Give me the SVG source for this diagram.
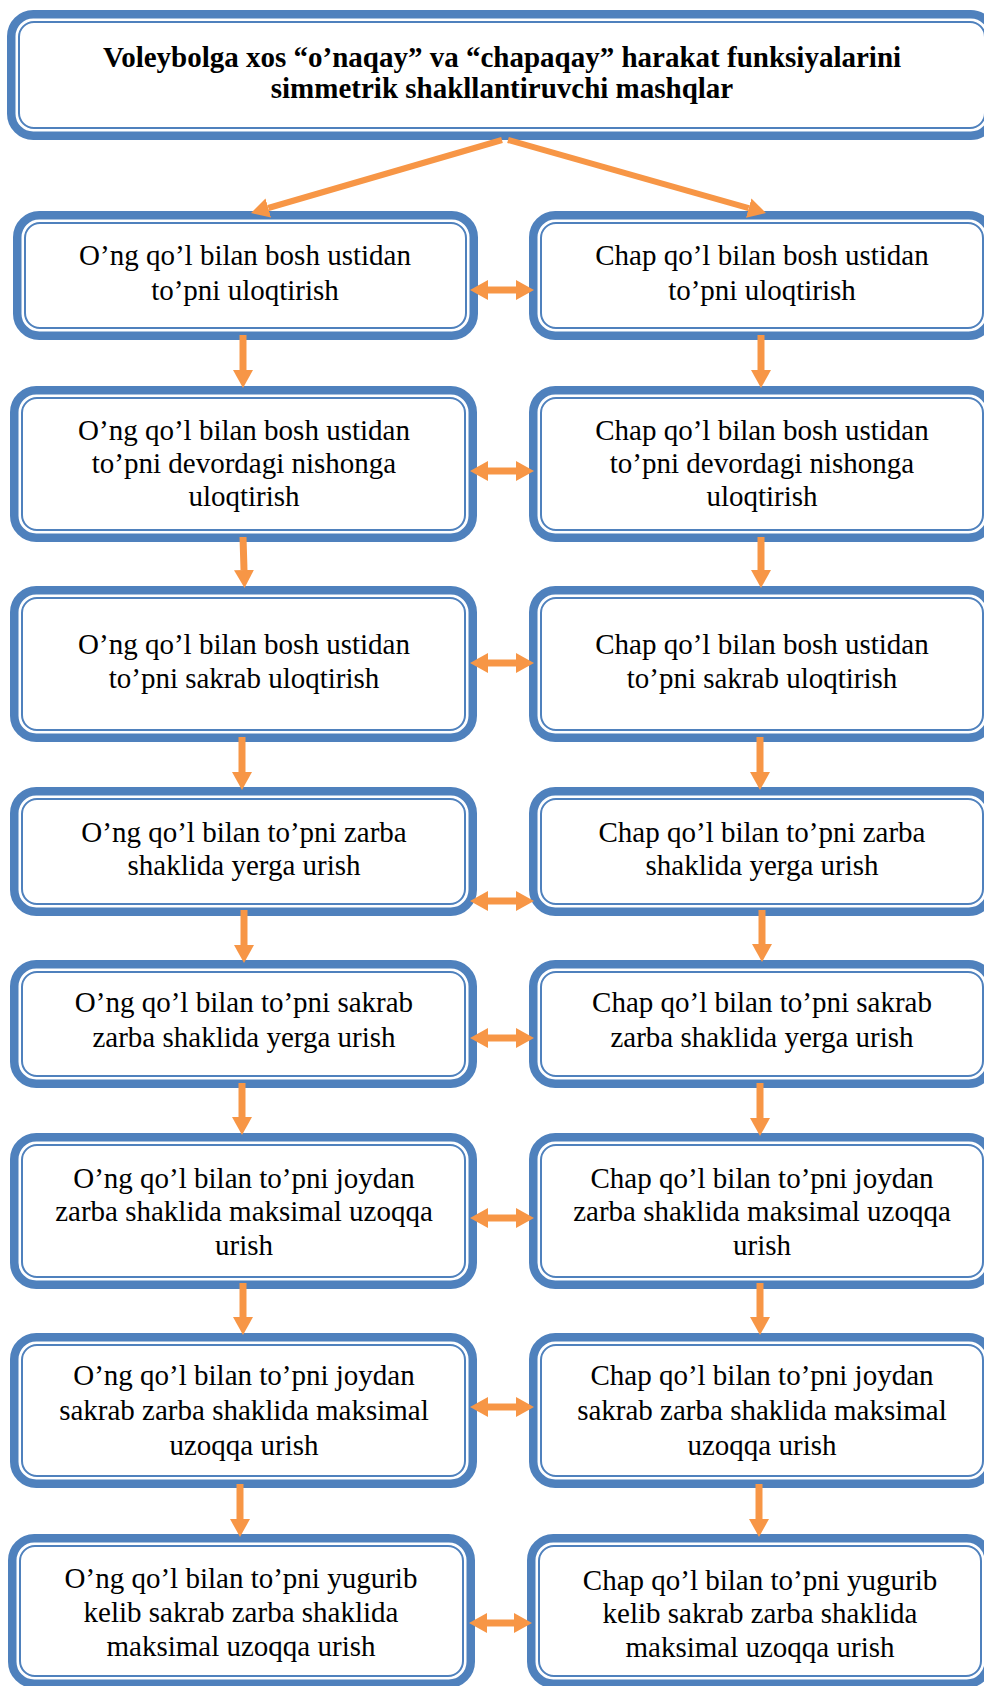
<svg xmlns="http://www.w3.org/2000/svg" width="984" height="1686" viewBox="0 0 984 1686">
<style>
.outer{fill:#fff;stroke:#4F81BD;stroke-width:8.5}
.inner{fill:none;stroke:#4F81BD;stroke-width:2}
.t{font-family:"Liberation Serif","Times New Roman",serif;font-size:29px;text-anchor:middle;fill:#000}
.b{font-weight:bold}
.c{stroke:#F79646;stroke-width:7;fill:none}
.c6{stroke:#F79646;stroke-width:6;fill:none}
</style>
<defs>
<marker id="ah" markerUnits="userSpaceOnUse" markerWidth="18" markerHeight="20" refX="0" refY="10" orient="auto-start-reverse" viewBox="0 0 18 20">
<path d="M0,0 L18,10 L0,20 z" fill="#F79646"/>
</marker>
</defs>
<rect width="984" height="1686" fill="#fff"/>

<g id="title">
<rect class="outer" x="11.25" y="14.25" width="981.5" height="121.5" rx="22"/>
<rect class="inner" x="19" y="22" width="966" height="106" rx="15"/>
<text class="t b" x="502" y="67">Voleybolga xos “o’naqay” va “chapaqay” harakat funksiyalarini</text>
<text class="t b" x="502" y="98">simmetrik shakllantiruvchi mashqlar</text>
</g>

<g id="L1">
<rect class="outer" x="17.25" y="215.25" width="456.5" height="120.5" rx="22"/>
<rect class="inner" x="25" y="223" width="441" height="105" rx="15"/>
<text class="t" x="245" y="265">O’ng qo’l bilan bosh ustidan</text>
<text class="t" x="245" y="300">to’pni uloqtirish</text>
</g>
<g id="R1">
<rect class="outer" x="533.25" y="215.25" width="457.5" height="120.5" rx="22"/>
<rect class="inner" x="541" y="223" width="442" height="105" rx="15"/>
<text class="t" x="762" y="265">Chap qo’l bilan bosh ustidan</text>
<text class="t" x="762" y="300">to’pni uloqtirish</text>
</g>

<g id="L2">
<rect class="outer" x="14.25" y="390.25" width="458.5" height="147.5" rx="22"/>
<rect class="inner" x="22" y="398" width="443" height="132" rx="15"/>
<text class="t" x="244" y="440">O’ng qo’l bilan bosh ustidan</text>
<text class="t" x="244" y="473">to’pni devordagi nishonga</text>
<text class="t" x="244" y="506">uloqtirish</text>
</g>
<g id="R2">
<rect class="outer" x="533.25" y="390.25" width="457.5" height="147.5" rx="22"/>
<rect class="inner" x="541" y="398" width="442" height="132" rx="15"/>
<text class="t" x="762" y="440">Chap qo’l bilan bosh ustidan</text>
<text class="t" x="762" y="473">to’pni devordagi nishonga</text>
<text class="t" x="762" y="506">uloqtirish</text>
</g>

<g id="L3">
<rect class="outer" x="14.25" y="590.25" width="458.5" height="147.5" rx="22"/>
<rect class="inner" x="22" y="598" width="443" height="132" rx="15"/>
<text class="t" x="244" y="654">O’ng qo’l bilan bosh ustidan</text>
<text class="t" x="244" y="688">to’pni sakrab uloqtirish</text>
</g>
<g id="R3">
<rect class="outer" x="533.25" y="590.25" width="457.5" height="147.5" rx="22"/>
<rect class="inner" x="541" y="598" width="442" height="132" rx="15"/>
<text class="t" x="762" y="654">Chap qo’l bilan bosh ustidan</text>
<text class="t" x="762" y="688">to’pni sakrab uloqtirish</text>
</g>

<g id="L4">
<rect class="outer" x="14.25" y="791.25" width="458.5" height="120.5" rx="22"/>
<rect class="inner" x="22" y="799" width="443" height="105" rx="15"/>
<text class="t" x="244" y="842">O’ng qo’l bilan to’pni zarba</text>
<text class="t" x="244" y="875">shaklida yerga urish</text>
</g>
<g id="R4">
<rect class="outer" x="533.25" y="791.25" width="457.5" height="120.5" rx="22"/>
<rect class="inner" x="541" y="799" width="442" height="105" rx="15"/>
<text class="t" x="762" y="842">Chap qo’l bilan to’pni zarba</text>
<text class="t" x="762" y="875">shaklida yerga urish</text>
</g>

<g id="L5">
<rect class="outer" x="14.25" y="964.25" width="458.5" height="119.5" rx="22"/>
<rect class="inner" x="22" y="972" width="443" height="104" rx="15"/>
<text class="t" x="244" y="1012">O’ng qo’l bilan to’pni sakrab</text>
<text class="t" x="244" y="1047">zarba shaklida yerga urish</text>
</g>
<g id="R5">
<rect class="outer" x="533.25" y="964.25" width="457.5" height="119.5" rx="22"/>
<rect class="inner" x="541" y="972" width="442" height="104" rx="15"/>
<text class="t" x="762" y="1012">Chap qo’l bilan to’pni sakrab</text>
<text class="t" x="762" y="1047">zarba shaklida yerga urish</text>
</g>

<g id="L6">
<rect class="outer" x="14.25" y="1137.25" width="458.5" height="147.5" rx="22"/>
<rect class="inner" x="22" y="1145" width="443" height="132" rx="15"/>
<text class="t" x="244" y="1188">O’ng qo’l bilan to’pni joydan</text>
<text class="t" x="244" y="1221">zarba shaklida maksimal uzoqqa</text>
<text class="t" x="244" y="1255">urish</text>
</g>
<g id="R6">
<rect class="outer" x="533.25" y="1137.25" width="457.5" height="147.5" rx="22"/>
<rect class="inner" x="541" y="1145" width="442" height="132" rx="15"/>
<text class="t" x="762" y="1188">Chap qo’l bilan to’pni joydan</text>
<text class="t" x="762" y="1221">zarba shaklida maksimal uzoqqa</text>
<text class="t" x="762" y="1255">urish</text>
</g>

<g id="L7">
<rect class="outer" x="14.25" y="1337.25" width="458.5" height="146.5" rx="22"/>
<rect class="inner" x="22" y="1345" width="443" height="131" rx="15"/>
<text class="t" x="244" y="1385">O’ng qo’l bilan to’pni joydan</text>
<text class="t" x="244" y="1420">sakrab zarba shaklida maksimal</text>
<text class="t" x="244" y="1455">uzoqqa urish</text>
</g>
<g id="R7">
<rect class="outer" x="533.25" y="1337.25" width="457.5" height="146.5" rx="22"/>
<rect class="inner" x="541" y="1345" width="442" height="131" rx="15"/>
<text class="t" x="762" y="1385">Chap qo’l bilan to’pni joydan</text>
<text class="t" x="762" y="1420">sakrab zarba shaklida maksimal</text>
<text class="t" x="762" y="1455">uzoqqa urish</text>
</g>

<g id="L8">
<rect class="outer" x="12.25" y="1538.25" width="458.5" height="145.5" rx="22"/>
<rect class="inner" x="20" y="1546" width="443" height="130" rx="15"/>
<text class="t" x="241" y="1588">O’ng qo’l bilan to’pni yugurib</text>
<text class="t" x="241" y="1622">kelib sakrab zarba shaklida</text>
<text class="t" x="241" y="1656">maksimal uzoqqa urish</text>
</g>
<g id="R8">
<rect class="outer" x="531.25" y="1538.25" width="457.5" height="145.5" rx="22"/>
<rect class="inner" x="539" y="1546" width="442" height="130" rx="15"/>
<text class="t" x="760" y="1590">Chap qo’l bilan to’pni yugurib</text>
<text class="t" x="760" y="1623">kelib sakrab zarba shaklida</text>
<text class="t" x="760" y="1657">maksimal uzoqqa urish</text>
</g>

<g id="connectors">
<line class="c6" x1="502" y1="140" x2="268.3" y2="208" marker-end="url(#ah)"/>
<line class="c6" x1="508" y1="140" x2="748.7" y2="208.1" marker-end="url(#ah)"/>

<line class="c" x1="243" y1="335" x2="243" y2="370" marker-end="url(#ah)"/>
<line class="c" x1="243" y1="537" x2="244" y2="570" marker-end="url(#ah)"/>
<line class="c" x1="242" y1="737" x2="242" y2="772" marker-end="url(#ah)"/>
<line class="c" x1="244" y1="910" x2="244" y2="945" marker-end="url(#ah)"/>
<line class="c" x1="242" y1="1083" x2="242" y2="1117" marker-end="url(#ah)"/>
<line class="c" x1="243" y1="1283" x2="243" y2="1317" marker-end="url(#ah)"/>
<line class="c" x1="240" y1="1484" x2="240" y2="1519" marker-end="url(#ah)"/>

<line class="c" x1="761" y1="335" x2="761" y2="370" marker-end="url(#ah)"/>
<line class="c" x1="761" y1="537" x2="761" y2="570" marker-end="url(#ah)"/>
<line class="c" x1="760" y1="737" x2="760" y2="772" marker-end="url(#ah)"/>
<line class="c" x1="762" y1="910" x2="762" y2="944" marker-end="url(#ah)"/>
<line class="c" x1="760" y1="1083" x2="760" y2="1118" marker-end="url(#ah)"/>
<line class="c" x1="760" y1="1283" x2="760" y2="1317" marker-end="url(#ah)"/>
<line class="c" x1="759" y1="1484" x2="759" y2="1519" marker-end="url(#ah)"/>

<line class="c" x1="488" y1="290" x2="516" y2="290" marker-start="url(#ah)" marker-end="url(#ah)"/>
<line class="c" x1="488" y1="471" x2="516" y2="471" marker-start="url(#ah)" marker-end="url(#ah)"/>
<line class="c" x1="488" y1="663" x2="516" y2="663" marker-start="url(#ah)" marker-end="url(#ah)"/>
<line class="c" x1="488" y1="901" x2="516" y2="901" marker-start="url(#ah)" marker-end="url(#ah)"/>
<line class="c" x1="488" y1="1038" x2="516" y2="1038" marker-start="url(#ah)" marker-end="url(#ah)"/>
<line class="c" x1="488" y1="1218" x2="516" y2="1218" marker-start="url(#ah)" marker-end="url(#ah)"/>
<line class="c" x1="488" y1="1407" x2="516" y2="1407" marker-start="url(#ah)" marker-end="url(#ah)"/>
<line class="c" x1="487" y1="1623" x2="514" y2="1623" marker-start="url(#ah)" marker-end="url(#ah)"/>
</g>
</svg>
